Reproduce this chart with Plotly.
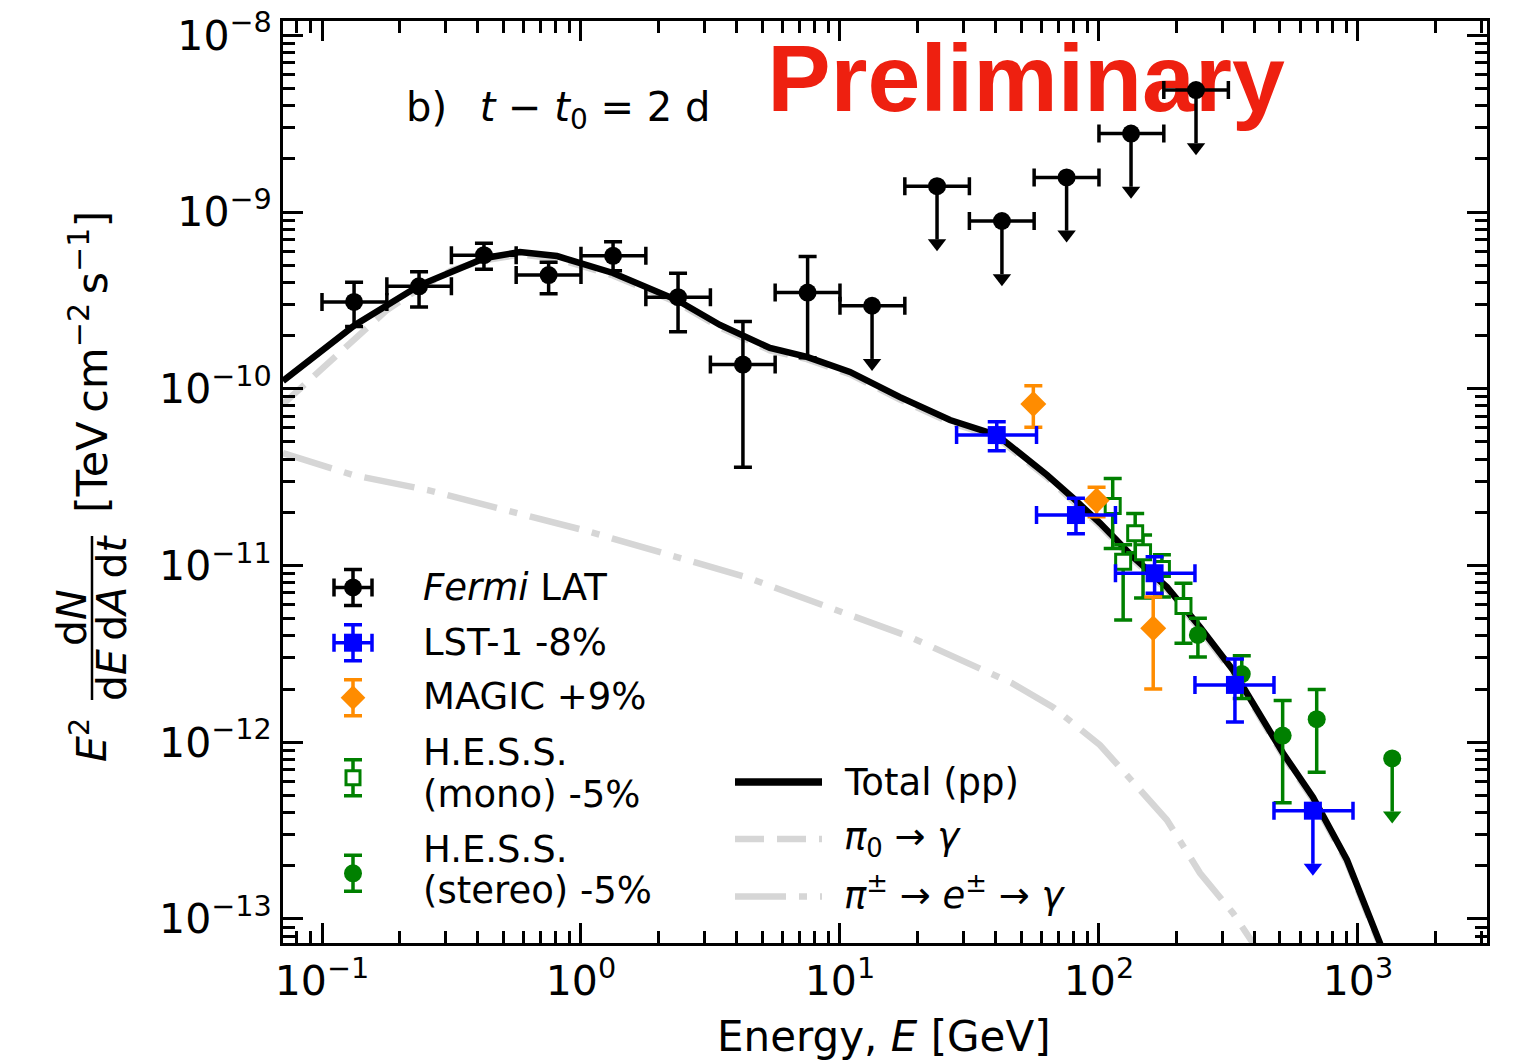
import numpy as np
import plotly.graph_objects as go

# ---------------- data: energies in GeV, E^2 dN/dE in TeV cm^-2 s^-1 ----------------
# Fermi-LAT flux points
fermi_e = [0.133, 0.237, 0.422, 0.75, 1.33, 2.37, 4.22, 7.5]
fermi_e_lo = [0.1, 0.178, 0.316, 0.562, 1.0, 1.78, 3.16, 5.62]
fermi_e_hi = [0.178, 0.316, 0.562, 1.0, 1.78, 3.16, 5.62, 10.0]
fermi_f = [3.1e-10, 3.8e-10, 5.7e-10, 4.4e-10, 5.65e-10, 3.3e-10, 1.37e-10, 3.5e-10]
fermi_f_hi = [4.0e-10, 4.6e-10, 6.65e-10, 5.2e-10, 6.8e-10, 4.5e-10, 2.4e-10, 5.6e-10]
fermi_f_lo = [2.25e-10, 2.9e-10, 4.75e-10, 3.45e-10, 4.65e-10, 2.1e-10, 3.6e-11, 1.5e-10]

# Fermi-LAT upper limits
fermi_ul_e = [13.3, 23.7, 42.2, 75.0, 133.0, 237.0]
fermi_ul_e_lo = [10.0, 17.8, 31.6, 56.2, 100.0, 178.0]
fermi_ul_e_hi = [17.8, 31.6, 56.2, 100.0, 178.0, 316.0]
fermi_ul_f = [2.95e-10, 1.4e-9, 8.9e-10, 1.57e-9, 2.78e-9, 4.9e-9]

# LST-1 (-8%)
lst_e = [40.3, 81.5, 164.0, 335.0]
lst_e_lo = [28.2, 57.4, 115.8, 234.8]
lst_e_hi = [57.4, 115.8, 234.8, 474.0]
lst_f = [5.47e-11, 1.93e-11, 9.04e-12, 2.11e-12]
lst_f_hi = [6.51e-11, 2.40e-11, 1.12e-11, 2.96e-12]
lst_f_lo = [4.46e-11, 1.51e-11, 6.97e-12, 1.30e-12]
lst_ul_e = [670.0]
lst_ul_e_lo = [474.0]
lst_ul_e_hi = [957.0]
lst_ul_f = [4.1e-13]

# MAGIC (+9%)
magic_e = [55.8, 97.9, 162.0]
magic_f = [8.2e-11, 2.33e-11, 4.42e-12]
magic_f_hi = [1.04e-10, 2.77e-11, 6.64e-12]
magic_f_lo = [6.05e-11, 1.89e-11, 2.0e-12]

# H.E.S.S. mono (-5%)
mono_e = [113.0, 124.0, 138.0, 148.0, 175.0, 212.0]
mono_f = [2.17e-11, 1.05e-11, 1.52e-11, 1.19e-11, 9.55e-12, 5.9e-12]
mono_f_hi = [3.11e-11, 1.31e-11, 1.97e-11, 1.49e-11, 1.15e-11, 7.93e-12]
mono_f_lo = [1.25e-11, 4.92e-12, 1.18e-11, 6.55e-12, 6.64e-12, 3.63e-12]

# H.E.S.S. stereo (-5%)
stereo_e = [241.0, 356.0, 512.0, 693.0]
stereo_f = [4.05e-12, 2.43e-12, 1.09e-12, 1.35e-12]
stereo_f_hi = [5.03e-12, 3.09e-12, 1.72e-12, 1.99e-12]
stereo_f_lo = [3.04e-12, 1.77e-12, 4.55e-13, 6.76e-13]
stereo_ul_e = [1356.0]
stereo_ul_f = [8.1e-13]

# pp model: total
total_e = [0.0707, 0.1341, 0.239, 0.4259, 0.5813, 0.8078, 1.329, 2.348, 3.441, 5.366,
           7.456, 10.93, 17.05, 26.59, 40.39, 62.99, 79.37, 100.9, 135.3, 183.0,
           245.5, 329.2, 513.3, 670.4, 907.0, 1216.0, 1390.0]
total_f = [1.107e-10, 2.296e-10, 3.864e-10, 5.495e-10, 5.943e-10, 5.636e-10, 4.519e-10,
           3.177e-10, 2.296e-10, 1.702e-10, 1.514e-10, 1.245e-10, 8.974e-11, 6.653e-11,
           5.47e-11, 3.251e-11, 2.41e-11, 1.738e-11, 1.117e-11, 7.551e-12, 4.487e-12,
           2.564e-12, 8.69e-13, 4.887e-13, 2.158e-13, 7.31e-14, 3.96e-14]

# pp model: pi0 decay component
pi0_e = [0.0707, 0.0982, 0.1317, 0.1782, 0.239, 0.3177, 0.4259, 0.5813, 0.8078, 1.329,
         2.348, 3.441, 5.366, 7.456, 10.93, 17.05, 26.59, 40.39, 62.99, 79.37, 100.9,
         135.3, 183.0, 245.5, 329.2, 513.3, 670.4, 907.0, 1216.0, 1390.0]
pi0_f = [8.2e-11, 1.276e-10, 1.888e-10, 2.793e-10, 3.715e-10, 4.7e-10, 5.33e-10, 5.76e-10,
         5.46e-10, 4.38e-10, 3.08e-10, 2.22e-10, 1.65e-10, 1.47e-10, 1.21e-10, 8.7e-11,
         6.45e-11, 5.3e-11, 3.15e-11, 2.34e-11, 1.68e-11, 1.08e-11, 7.31e-12, 4.34e-12,
         2.48e-12, 8.42e-13, 4.73e-13, 2.09e-13, 7.08e-14, 3.84e-14]

# pp model: secondary e+- component
sec_e = [0.0707, 0.1317, 0.2566, 1.018, 4.336, 18.64, 46.15, 66.44, 100.9, 147.9,
         183.0, 245.5, 329.2, 393.2, 478.2]
sec_f = [4.33e-11, 3.25e-11, 2.67e-11, 1.589e-11, 8.61e-12, 3.94e-12, 2.16e-12, 1.58e-12,
         9.64e-13, 5.16e-13, 3.63e-13, 1.82e-13, 1.08e-13, 7.31e-14, 4.52e-14]

# axis ticks
x_major = [0.1, 1, 10, 100, 1000]
x_major_text = ["10<sup>\u22121</sup>", "10<sup>0</sup>", "10<sup>1</sup>", "10<sup>2</sup>", "10<sup>3</sup>"]
y_major = [1e-13, 1e-12, 1e-11, 1e-10, 1e-9, 1e-8]
y_major_text = ["10<sup>\u221213</sup>", "10<sup>\u221212</sup>", "10<sup>\u221211</sup>",
                "10<sup>\u221210</sup>", "10<sup>\u22129</sup>", "10<sup>\u22128</sup>"]

# legend labels
data_labels = ["<i>Fermi</i> LAT", "LST-1 -8%", "MAGIC +9%"]
hess_labels = [("H.E.S.S.", "(mono) -5%"), ("H.E.S.S.", "(stereo) -5%")]
model_labels = ["Total (pp)", "<i>\u03c0</i><sub>0</sub> \u2192 <i>\u03b3</i>",
                "<i>\u03c0</i><sup>\u00b1</sup> \u2192 <i>e</i><sup>\u00b1</sup> \u2192 <i>\u03b3</i>"]

# ---------------- styling ----------------
FONT = "DejaVu Sans"
W, H = 1516, 1064
L, R, T, B = 283, 29, 21, 121
GREY = "#d6d6d6"
BLUE = "#0000ff"
ORANGE = "#ff8c00"
GREEN = "#008000"
EW = 3.5          # error-bar line width
CAP = 9           # error-bar cap half-width
UL_DROP = 0.5     # upper-limit arrows extend down to half the limit
ARROW_SHIFT = 0.95

XR = [np.log10(0.0707), np.log10(3150.0)]
YR = [-13.136, -7.919]


def fx(px):
    return (px - L) / (W - L - R)


def fy(py):
    return (H - B - py) / (H - T - B)


def yerr(f, hi, lo, color, width=CAP):
    return dict(type="data", symmetric=False,
                array=[h - v for v, h in zip(f, hi)],
                arrayminus=[v - l for v, l in zip(f, lo)],
                color=color, thickness=EW, width=width)


def xerr(e, hi, lo, color):
    return dict(type="data", symmetric=False,
                array=[h - v for v, h in zip(e, hi)],
                arrayminus=[v - l for v, l in zip(e, lo)],
                color=color, thickness=EW, width=CAP)


def ul_err(f, color):
    return dict(type="data", symmetric=False, array=[0.0] * len(f),
                arrayminus=[v * (1 - UL_DROP) for v in f],
                color=color, thickness=EW, width=0)


fig = go.Figure()

# "Preliminary" stamp, drawn beneath the data
fig.add_trace(go.Scatter(
    x=[10 ** (XR[0] + fx(1026) * (XR[1] - XR[0]))],
    y=[10 ** (YR[0] + fy(87) * (YR[1] - YR[0]))],
    mode="text", text=["<b>Preliminary</b>"], textposition="middle center",
    textfont=dict(family="Liberation Sans", size=95, color="#ee2010"),
    showlegend=False, hoverinfo="skip"))

# model curves
fig.add_trace(go.Scatter(x=sec_e, y=sec_f, mode="lines",
                         line=dict(color=GREY, width=6.5, dash="51px,13px,8px,13px"),
                         showlegend=False))
fig.add_trace(go.Scatter(x=pi0_e, y=pi0_f, mode="lines",
                         line=dict(color=GREY, width=6.5, dash="29px,13px"),
                         showlegend=False))
fig.add_trace(go.Scatter(x=total_e, y=total_f, mode="lines",
                         line=dict(color="black", width=6.5), showlegend=False))

# H.E.S.S. mono
fig.add_trace(go.Scatter(
    x=mono_e, y=mono_f, mode="markers",
    marker=dict(symbol="square", size=15, color="white", line=dict(color=GREEN, width=3)),
    error_y=yerr(mono_f, mono_f_hi, mono_f_lo, GREEN), showlegend=False))

# H.E.S.S. stereo
fig.add_trace(go.Scatter(
    x=stereo_e, y=stereo_f, mode="markers",
    marker=dict(symbol="circle", size=18, color=GREEN),
    error_y=yerr(stereo_f, stereo_f_hi, stereo_f_lo, GREEN), showlegend=False))
fig.add_trace(go.Scatter(
    x=stereo_ul_e, y=stereo_ul_f, mode="markers",
    marker=dict(symbol="circle", size=18, color=GREEN),
    error_y=ul_err(stereo_ul_f, GREEN), showlegend=False))
fig.add_trace(go.Scatter(
    x=stereo_ul_e, y=[v * UL_DROP * ARROW_SHIFT for v in stereo_ul_f], mode="markers",
    marker=dict(symbol="triangle-down", size=16, color=GREEN), showlegend=False))

# MAGIC
fig.add_trace(go.Scatter(
    x=magic_e, y=magic_f, mode="markers",
    marker=dict(symbol="diamond", size=20, color=ORANGE),
    error_y=yerr(magic_f, magic_f_hi, magic_f_lo, ORANGE), showlegend=False))

# LST-1
fig.add_trace(go.Scatter(
    x=lst_e, y=lst_f, mode="markers",
    marker=dict(symbol="square", size=18, color=BLUE),
    error_x=xerr(lst_e, lst_e_hi, lst_e_lo, BLUE),
    error_y=yerr(lst_f, lst_f_hi, lst_f_lo, BLUE), showlegend=False))
fig.add_trace(go.Scatter(
    x=lst_ul_e, y=lst_ul_f, mode="markers",
    marker=dict(symbol="square", size=18, color=BLUE),
    error_x=xerr(lst_ul_e, lst_ul_e_hi, lst_ul_e_lo, BLUE),
    error_y=ul_err(lst_ul_f, BLUE), showlegend=False))
fig.add_trace(go.Scatter(
    x=lst_ul_e, y=[v * UL_DROP * ARROW_SHIFT for v in lst_ul_f], mode="markers",
    marker=dict(symbol="triangle-down", size=16, color=BLUE), showlegend=False))

# Fermi-LAT
fig.add_trace(go.Scatter(
    x=fermi_e, y=fermi_f, mode="markers",
    marker=dict(symbol="circle", size=18, color="black"),
    error_x=xerr(fermi_e, fermi_e_hi, fermi_e_lo, "black"),
    error_y=yerr(fermi_f, fermi_f_hi, fermi_f_lo, "black"), showlegend=False))
fig.add_trace(go.Scatter(
    x=fermi_ul_e, y=fermi_ul_f, mode="markers",
    marker=dict(symbol="circle", size=18, color="black"),
    error_x=xerr(fermi_ul_e, fermi_ul_e_hi, fermi_ul_e_lo, "black"),
    error_y=ul_err(fermi_ul_f, "black"), showlegend=False))
fig.add_trace(go.Scatter(
    x=fermi_ul_e, y=[v * UL_DROP * ARROW_SHIFT for v in fermi_ul_f], mode="markers",
    marker=dict(symbol="triangle-down", size=16, color="black"), showlegend=False))

# ---------------- hand-drawn legends on an overlay axis spanning the plot area ----------------
LX = fx(353)
EXL = 19 / (W - L - R)
EYL = 18 / (H - T - B)
legend_marks = [
    (587.5, dict(symbol="circle", size=18, color="black"), "black", True),
    (642.7, dict(symbol="square", size=18, color=BLUE), BLUE, True),
    (697.7, dict(symbol="diamond", size=19, color=ORANGE), ORANGE, False),
    (777.7, dict(symbol="square", size=14, color="white", line=dict(color=GREEN, width=3)), GREEN, False),
    (873.3, dict(symbol="circle", size=18, color=GREEN), GREEN, False),
]
for py, mk, col, has_x in legend_marks:
    tr = dict(x=[LX], y=[fy(py)], mode="markers", marker=mk, xaxis="x2", yaxis="y2",
              showlegend=False, hoverinfo="skip",
              error_y=dict(type="constant", value=EYL, color=col, thickness=EW, width=CAP))
    if has_x:
        tr["error_x"] = dict(type="constant", value=EXL, color=col, thickness=EW, width=CAP)
    fig.add_trace(go.Scatter(**tr))

model_styles = [dict(color="black", width=7.5), dict(color=GREY, width=6.5, dash="29px,13px"),
                dict(color=GREY, width=6.5, dash="51px,13px,8px,13px")]
model_rows = [782, 839, 896.5]
for py, ls in zip(model_rows, model_styles):
    fig.add_trace(go.Scatter(x=[fx(735), fx(822)], y=[fy(py), fy(py)], mode="lines", line=ls,
                             xaxis="x2", yaxis="y2", showlegend=False, hoverinfo="skip"))


def label(text, px, py, size=37, xanchor="left", **kw):
    fig.add_annotation(x=fx(px), y=fy(py), xref="paper", yref="paper", text=text,
                       showarrow=False, xanchor=xanchor, yanchor="middle",
                       font=dict(family=FONT, size=size, color="black"), **kw)


for text, py in zip(data_labels, [587.5, 642.5, 696]):
    label(text, 421, py)
for (l1, l2), (p1, p2) in zip(hess_labels, [(752, 794), (849, 890)]):
    label(l1, 421, p1)
    label(l2, 421, p2)
for text, py in zip(model_labels, [782, 839, 892]):
    label(text, 842, py)

# panel tag
label("b)\u2002 <i>t</i> \u2212 <i>t</i><sub>0</sub> = 2 d", 404, 110, size=40)

# axis titles
label("Energy, <i>E</i> [GeV]", 884, 1036, size=42, xanchor="center")
label("<i>E</i><sup>2</sup>", 89, 740, size=41, xanchor="center", textangle=-90)
label("d<i>N</i>", 72, 618, size=41, xanchor="center", textangle=-90)
label("d<i>E</i>\u2009d<i>A</i>\u2009d<i>t</i>", 112, 618, size=41, xanchor="center", textangle=-90)
label("[TeV\u2009cm<sup>\u22122</sup>\u2009s<sup>\u22121</sup>]", 89, 362, size=43,
      xanchor="center", textangle=-90)
fig.add_shape(type="line", xref="paper", yref="paper", x0=fx(92), x1=fx(92),
              y0=fy(536), y1=fy(700), line=dict(color="black", width=2.5))

x_minor = [k * 10.0 ** d for d in range(-2, 4) for k in range(2, 10)]
y_minor = [k * 10.0 ** d for d in range(-14, -7) for k in range(2, 10)]

axis_common = dict(showline=True, linewidth=3, linecolor="black", mirror="allticks",
                   ticks="inside", ticklen=20, tickwidth=3, tickcolor="black",
                   showgrid=False, zeroline=False, tickmode="array", automargin=False,
                   tickfont=dict(family=FONT, size=41, color="black"))

fig.update_layout(
    width=W, height=H, autosize=False,
    margin=dict(l=L, r=R, t=T, b=B, autoexpand=False),
    paper_bgcolor="white", plot_bgcolor="white",
    showlegend=False,
    xaxis=dict(type="log", range=XR, tickvals=x_major, ticktext=x_major_text,
               minor=dict(tickmode="array", tickvals=x_minor, ticks="inside", ticklen=12,
                          tickwidth=2.5, tickcolor="black", showgrid=False),
               **axis_common),
    yaxis=dict(type="log", range=YR, tickvals=y_major, ticktext=y_major_text,
               minor=dict(tickmode="array", tickvals=y_minor, ticks="inside", ticklen=12,
                          tickwidth=2.5, tickcolor="black", showgrid=False),
               **axis_common),
    xaxis2=dict(range=[0, 1], overlaying="x", anchor="y2", visible=False, fixedrange=True,
                automargin=False),
    yaxis2=dict(range=[0, 1], overlaying="y", anchor="x2", visible=False, fixedrange=True,
                automargin=False),
)

fig.write_html("out.html")
